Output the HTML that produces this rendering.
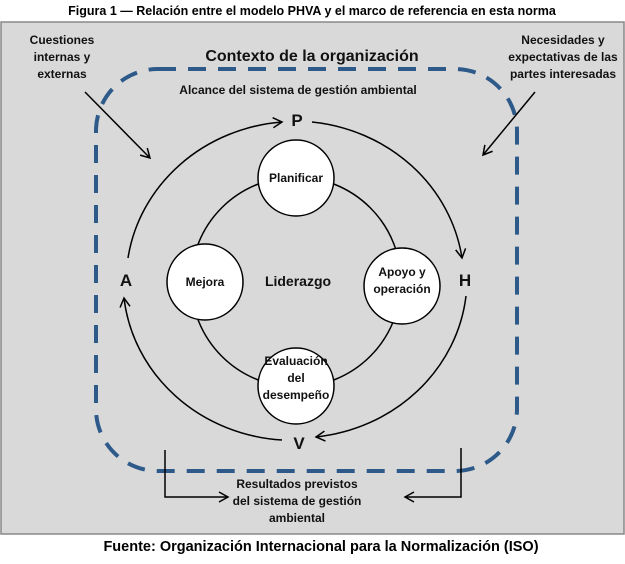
<!DOCTYPE html>
<html><head><style>
body{margin:0;background:#fff;width:625px;height:559px;overflow:hidden;font-family:"Liberation Sans",sans-serif}
</style></head><body>
<svg width="625" height="559" xmlns="http://www.w3.org/2000/svg" font-family="Liberation Sans, sans-serif">
<defs><marker id="a" markerWidth="12" markerHeight="12" refX="10" refY="6" orient="auto" markerUnits="userSpaceOnUse"><path d="M1,1 L10,6 L1,11" fill="none" stroke="#000" stroke-width="1.5"/></marker></defs>
<text x="312" y="15" text-anchor="middle" font-size="12.5" font-weight="bold">Figura 1 — Relación entre el modelo PHVA y el marco de referencia en esta norma</text>
<rect x="1" y="22" width="623" height="512" fill="#d9d9d9" stroke="#888" stroke-width="1.5"/>
<rect x="96" y="69" width="421" height="402" rx="62" fill="none" stroke="#2e5a8a" stroke-width="4" stroke-dasharray="18 12"/>
<g font-size="12" font-weight="bold" text-anchor="middle" fill="#111">
<text x="62" y="44">Cuestiones</text><text x="62" y="61">internas y</text><text x="62" y="78">externas</text>
<text x="563" y="44">Necesidades y</text><text x="563" y="61">expectativas de las</text><text x="563" y="78">partes interesadas</text>
<text x="298" y="94">Alcance del sistema de gestión ambiental</text>
<text x="297" y="488">Resultados previstos</text><text x="297" y="505">del sistema de gestión</text><text x="297" y="522">ambiental</text>
</g>
<text x="312" y="61" text-anchor="middle" font-size="16" font-weight="bold" fill="#111">Contexto de la organización</text>
<text x="321" y="551" text-anchor="middle" font-size="14.5" font-weight="bold">Fuente: Organización Internacional para la Normalización (ISO)</text>
<g stroke="#000" stroke-width="1.5" fill="none">
<line x1="85" y1="92" x2="150" y2="158" marker-end="url(#a)"/>
<line x1="535" y1="92" x2="483" y2="155" marker-end="url(#a)"/>
<polyline points="165,450 165,497 228,497" marker-end="url(#a)"/>
<polyline points="461,448 461,497 405,497" marker-end="url(#a)"/>
<path d="M128,258 A170,160 0 0 1 282,122" marker-end="url(#a)"/>
<path d="M312,122 A170,160 0 0 1 462,258" marker-end="url(#a)"/>
<path d="M466,296 A170,160 0 0 1 316,437" marker-end="url(#a)"/>
<path d="M282,440 A170,160 0 0 1 124,298" marker-end="url(#a)"/>
<circle cx="296" cy="282" r="105"/>
</g>
<g fill="#fff" stroke="#000" stroke-width="1.5">
<circle cx="296" cy="178" r="38"/><circle cx="205" cy="282" r="38"/>
<circle cx="402" cy="286" r="38"/><circle cx="296" cy="386" r="38"/>
</g>
<g font-size="12" font-weight="bold" text-anchor="middle" fill="#111">
<text x="296" y="182">Planificar</text><text x="205" y="286">Mejora</text>
<text x="402" y="276">Apoyo y</text><text x="402" y="293">operación</text>
<text x="296" y="365">Evaluación</text><text x="296" y="382">del</text><text x="296" y="399">desempeño</text>
<text x="298" y="286" font-size="14">Liderazgo</text>
</g>
<g font-size="17" font-weight="bold" text-anchor="middle" fill="#111">
<text x="297" y="126">P</text><text x="465" y="286">H</text><text x="299" y="449">V</text><text x="126" y="286">A</text>
</g>
</svg>
</body></html>
